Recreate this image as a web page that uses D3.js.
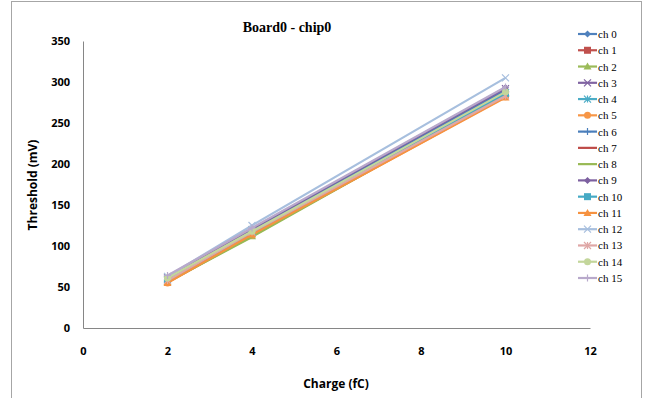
<!DOCTYPE html>
<html>
<head>
<meta charset="utf-8">
<script src="https://cdn.jsdelivr.net/npm/d3@7"></script>
<style>
  body { margin: 0; background: #fff; }
  svg { display: block; }
</style>
</head>
<body>
<div id="chart"></div>
<script>
// ===============================
// Data
// ===============================

const charges = [2, 4, 10];

const seriesNames = ["ch 0", "ch 1", "ch 2", "ch 3", "ch 4", "ch 5", "ch 6", "ch 7",
    "ch 8", "ch 9", "ch 10", "ch 11", "ch 12", "ch 13", "ch 14", "ch 15"];

const ch0 = [60, 118, 290];
const ch1 = [58, 116, 284];
const ch2 = [56, 112, 286];
const ch3 = [61, 120, 292];
const ch4 = [59, 117, 287];
const ch5 = [55, 113, 282];
const ch6 = [60, 119, 289];
const ch7 = [57, 115, 283];
const ch8 = [56, 111, 285];
const ch9 = [62, 121, 293];
const ch10 = [59, 116, 286];
const ch11 = [55, 114, 281];
const ch12 = [63, 125, 305];
const ch13 = [58, 117, 283];
const ch14 = [61, 118, 288];
const ch15 = [64, 122, 294];

const seriesValues = [ch0, ch1, ch2, ch3, ch4, ch5, ch6, ch7,
    ch8, ch9, ch10, ch11, ch12, ch13, ch14, ch15];

const xTicks = [0, 2, 4, 6, 8, 10, 12];
const yTicks = [0, 50, 100, 150, 200, 250, 300, 350];

const colors = ["#4F81BD", "#C0504D", "#9BBB59", "#8064A2", "#4BACC6", "#F79646",
    "#4A7EBB", "#BE4B48", "#98B954", "#7D60A0", "#46AAC5", "#F69240",
    "#A7BFDE", "#DFA7A6", "#C3D69B", "#B8A9CB"];

const markers = ["diamond", "square", "triangle", "x", "star", "circle", "plus", "none",
    "none", "diamond", "square", "triangle", "x", "star", "circle", "plus"];

// ===============================
// Chart
// ===============================

const width = 650;
const height = 398;

const margin = { top: 41, left: 83 };
const plotRight = 590;
const plotBottom = 328;

const svg = d3.select("#chart")
    .append("svg")
    .attr("width", width)
    .attr("height", height);

// outer frame
svg.append("rect")
    .attr("x", 11.5)
    .attr("y", 1.5)
    .attr("width", 630)
    .attr("height", 400)
    .attr("fill", "none")
    .attr("stroke", "#A6A6A6");

const x = d3.scaleLinear()
    .domain([0, 12])
    .range([margin.left, plotRight]);

const y = d3.scaleLinear()
    .domain([0, 350])
    .range([plotBottom, margin.top]);

// axes
const xAxis = svg.append("g")
    .attr("transform", `translate(0,${y(0)})`)
    .call(d3.axisBottom(x).tickValues(xTicks).tickSize(0).tickPadding(19));

const yAxis = svg.append("g")
    .attr("transform", `translate(${x(0)},0)`)
    .call(d3.axisLeft(y).tickValues(yTicks).tickSize(0).tickPadding(13));

[xAxis, yAxis].forEach(g => {
    g.select(".domain").attr("stroke", "#868686");
    g.selectAll("text")
        .style("font-family", "'Open Sans', sans-serif")
        .style("font-weight", "bold")
        .style("font-size", "11px")
        .attr("fill", "#000");
});

// title
svg.append("text")
    .attr("x", 287)
    .attr("y", 32)
    .attr("text-anchor", "middle")
    .style("font-family", "'Liberation Serif', serif")
    .style("font-weight", "bold")
    .style("font-size", "14px")
    .text("Board0 - chip0");

// axis labels
svg.append("text")
    .attr("x", 336)
    .attr("y", 388)
    .attr("text-anchor", "middle")
    .style("font-family", "'Open Sans', sans-serif")
    .style("font-weight", "bold")
    .style("font-size", "12px")
    .text("Charge (fC)");

svg.append("text")
    .attr("transform", "rotate(-90)")
    .attr("x", -185)
    .attr("y", 37)
    .attr("text-anchor", "middle")
    .style("font-family", "'Open Sans', sans-serif")
    .style("font-weight", "bold")
    .style("font-size", "12px")
    .text("Threshold (mV)");

// marker helper
const drawMarker = (g, type, cx, cy, color) => {
    const s = 3.5;
    if (type === "diamond") {
        g.append("path").attr("d", `M${cx},${cy - s}L${cx + s},${cy}L${cx},${cy + s}L${cx - s},${cy}Z`).attr("fill", color);
    } else if (type === "square") {
        g.append("rect").attr("x", cx - 3.5).attr("y", cy - 3.5).attr("width", 7).attr("height", 7).attr("fill", color);
    } else if (type === "triangle") {
        g.append("path").attr("d", `M${cx},${cy - 4}L${cx + 4},${cy + 3}L${cx - 4},${cy + 3}Z`).attr("fill", color);
    } else if (type === "circle") {
        g.append("circle").attr("cx", cx).attr("cy", cy).attr("r", 3.5).attr("fill", color);
    } else if (type === "x") {
        g.append("path").attr("d", `M${cx - s},${cy - s}L${cx + s},${cy + s}M${cx + s},${cy - s}L${cx - s},${cy + s}`)
            .attr("stroke", color).attr("stroke-width", 1.2);
    } else if (type === "star") {
        g.append("path").attr("d", `M${cx - s},${cy - s}L${cx + s},${cy + s}M${cx + s},${cy - s}L${cx - s},${cy + s}M${cx},${cy - s}L${cx},${cy + s}`)
            .attr("stroke", color).attr("stroke-width", 1.2);
    } else if (type === "plus") {
        g.append("path").attr("d", `M${cx - s},${cy}L${cx + s},${cy}M${cx},${cy - s}L${cx},${cy + s}`)
            .attr("stroke", color).attr("stroke-width", 1.2);
    }
};

// lines
const line = d3.line()
    .x((d, i) => x(charges[i]))
    .y(d => y(d));

const seriesG = svg.append("g");

seriesValues.forEach((vals, si) => {
    const g = seriesG.append("g");
    g.append("path")
        .datum(vals)
        .attr("d", line)
        .attr("fill", "none")
        .attr("stroke", colors[si])
        .attr("stroke-width", 2.2);
    vals.forEach((v, i) => drawMarker(g, markers[si], x(charges[i]), y(v), colors[si]));
});

// legend
const legend = svg.append("g");
const legendY = d3.scalePoint()
    .domain(seriesNames)
    .range([34, 278]);

seriesNames.forEach((name, si) => {
    const ly = legendY(name);
    const g = legend.append("g");
    g.append("line")
        .attr("x1", 578).attr("x2", 597)
        .attr("y1", ly).attr("y2", ly)
        .attr("stroke", colors[si])
        .attr("stroke-width", 2.2);
    drawMarker(g, markers[si], 587.5, ly, colors[si]);
    g.append("text")
        .attr("x", 598)
        .attr("y", ly + 4)
        .style("font-family", "'Liberation Serif', serif")
        .style("font-size", "11px")
        .text(name);
});
</script>
</body>
</html>
